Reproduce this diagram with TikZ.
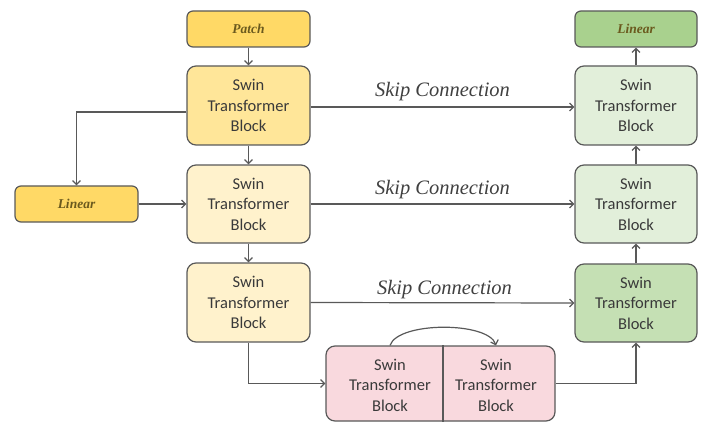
\documentclass[tikz,border=0pt]{standalone}
\usepackage{fontspec}
\setmainfont{Liberation Serif}
\newfontfamily\carlito{Carlito}
\usetikzlibrary{arrows.meta}
\definecolor{linec}{HTML}{595959}
\definecolor{textc}{HTML}{3A3A3A}
\definecolor{patchtext}{HTML}{6B5A1E}
\definecolor{skipc}{HTML}{404040}
\definecolor{goldfill}{HTML}{FFD966}
\definecolor{eafill}{HTML}{FFE699}
\definecolor{ebfill}{HTML}{FFF2CC}
\definecolor{pinkfill}{HTML}{F9D9DE}
\definecolor{dafill}{HTML}{E2EFDA}
\definecolor{dcfill}{HTML}{C5E0B4}
\definecolor{greenfill}{HTML}{A9D18E}
\begin{document}
\begin{tikzpicture}[x=1pt,y=-1pt,
  blockbox/.style={draw=linec, line width=1.2pt, rounded corners=9pt, inner sep=0pt,
    minimum width=123pt, minimum height=79pt, align=center,
    font=\carlito\fontsize{16.5}{20.5}\selectfont, text=textc},
  smallbox/.style={draw=linec, line width=1.2pt, rounded corners=6pt, inner sep=0pt,
    minimum width=123pt, minimum height=36pt,
    font=\bfseries\itshape\fontsize{13.5}{16}\selectfont, text=patchtext},
  plaintext/.style={inner sep=0pt, align=center,
    font=\carlito\fontsize{16.5}{20.5}\selectfont, text=textc},
  arr/.style={draw=linec, line width=1.2pt, -{Straight Barb[length=4pt,width=8pt]}},
  skiplabel/.style={font=\itshape\fontsize{20.5}{24}\selectfont, text=skipc, inner sep=0pt}
]
\useasboundingbox (0,0) rectangle (709,422);
% left column
\node[smallbox, fill=goldfill] (patch) at (248.5,29) {Patch};
\node[blockbox, fill=eafill] (E1) at (248.5,105.5) {Swin\\Transformer\\Block};
\node[blockbox, fill=ebfill, minimum height=78pt] (E2) at (248.5,204) {Swin\\Transformer\\Block};
\node[blockbox, fill=ebfill] (E3) at (248.5,302.5) {Swin\\Transformer\\Block};
\node[smallbox, fill=goldfill] (linL) at (76.5,204) {Linear};
% right column
\node[smallbox, fill=greenfill, minimum width=122pt] (linR) at (636,29) {Linear};
\node[blockbox, fill=dafill, minimum width=122pt] (D1) at (636,105.5) {Swin\\Transformer\\Block};
\node[blockbox, fill=dafill, minimum width=122pt, minimum height=78pt] (D2) at (636,204) {Swin\\Transformer\\Block};
\node[blockbox, fill=dcfill, minimum width=122pt, minimum height=78pt] (D3) at (636,303) {Swin\\Transformer\\Block};
% bottleneck
\node[draw=linec, line width=1.2pt, rounded corners=9pt, fill=pinkfill, inner sep=0pt,
  minimum width=229pt, minimum height=75pt] (pink) at (440.5,383.5) {};
\coordinate (dv) at (443,383.5);
\draw[draw=linec, line width=1.2pt] (dv |- pink.north) -- (dv |- pink.south);
\node[plaintext] (pl) at (390,385) {Swin\\Transformer\\Block};
\node[plaintext] (pr) at (496,385) {Swin\\Transformer\\Block};
\coordinate (a1) at (pl.north |- pink.north);
\coordinate (a2) at (pr.north |- pink.north);
\draw[arr] (a1) .. controls +(8,-24) and +(-8,-24) .. (a2);
% vertical arrows
\draw[arr] (patch) -- (E1);
\draw[arr] (E1) -- (E2);
\draw[arr] (E2) -- (E3);
\draw[arr] (D3) -- (D2);
\draw[arr] (D2) -- (D1);
\draw[arr] (D1) -- (linR);
% side connections
\draw[arr] ([yshift=-6.5pt]E1.west) -| (linL.north);
\draw[arr] (linL.east) -- (E2.west);
\draw[arr] (E3.south) |- (pink.west);
\draw[arr] (pink.east) -| (D3.south);
% skip connections
\draw[arr] ([yshift=-1.5pt]E1.east) -- node[skiplabel, midway, anchor=base, yshift=10pt] (s1) {Skip Connection} ([yshift=-1.5pt]D1.west);
\draw[arr] (E2.east) -- node[skiplabel, midway, anchor=base, yshift=9pt] (s2) {Skip Connection} (D2.west);
\draw[arr] (E3.east) -- node[skiplabel, midway, anchor=base, xshift=2pt, yshift=8pt] (s3) {Skip Connection} (D3.west);
\end{tikzpicture}
\end{document}
